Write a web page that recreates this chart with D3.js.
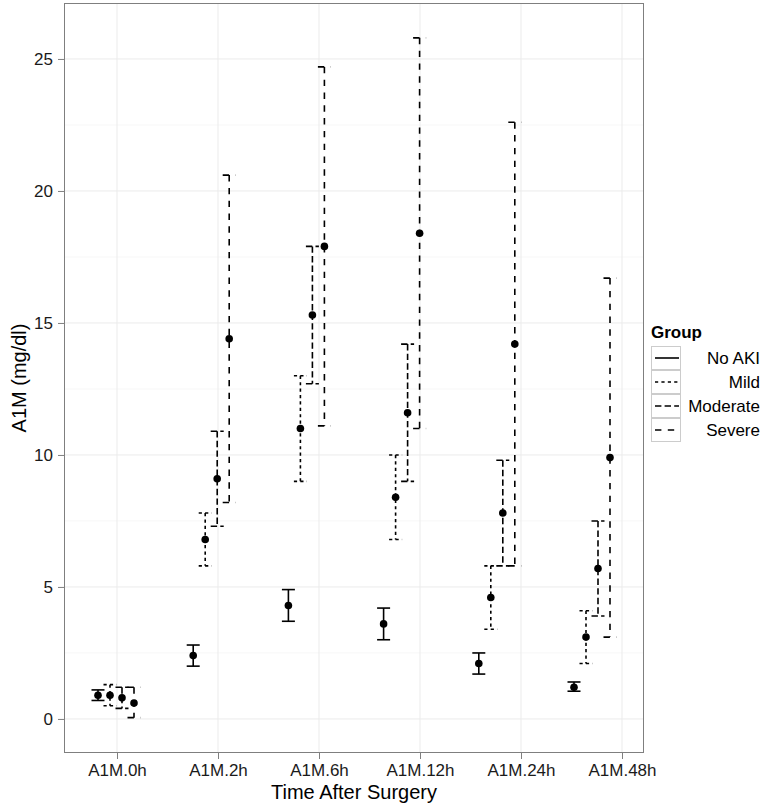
<!DOCTYPE html>
<html>
<head>
<meta charset="utf-8">
<script src="https://cdn.jsdelivr.net/npm/d3@7"></script>
<style>
  html, body { margin: 0; padding: 0; background: #fff; }
  svg { display: block; font-family: "Liberation Sans", Arial, Helvetica, sans-serif; }
</style>
</head>
<body>
<svg id="chart" width="765" height="807"></svg>
<script>
// ---- data ----
const categories = ["A1M.0h", "A1M.2h", "A1M.6h", "A1M.12h", "A1M.24h", "A1M.48h"];
const groups = ["No AKI", "Mild", "Moderate", "Severe"];
const meanNoAKI    = [0.9, 2.4, 4.3, 3.6, 2.1, 1.2];
const lowerNoAKI   = [0.7, 2.0, 3.7, 3.0, 1.7, 1.05];
const upperNoAKI   = [1.1, 2.8, 4.9, 4.2, 2.5, 1.4];
const meanMild     = [0.9, 6.8, 11.0, 8.4, 4.6, 3.1];
const lowerMild    = [0.5, 5.8, 9.0, 6.8, 3.4, 2.1];
const upperMild    = [1.3, 7.8, 13.0, 10.0, 5.8, 4.1];
const meanModerate = [0.8, 9.1, 15.3, 11.6, 7.8, 5.7];
const lowerModerate= [0.4, 7.3, 12.7, 9.0, 5.8, 3.9];
const upperModerate= [1.2, 10.9, 17.9, 14.2, 9.8, 7.5];
const meanSevere   = [0.6, 14.4, 17.9, 18.4, 14.2, 9.9];
const lowerSevere  = [0.05, 8.2, 11.1, 11.0, 5.8, 3.1];
const upperSevere  = [1.2, 20.6, 24.7, 25.8, 22.6, 16.7];
const yTicks = [0, 5, 10, 15, 20, 25];
const yMinor = [2.5, 7.5, 12.5, 17.5, 22.5];

const series = [
  {name: groups[0], mean: meanNoAKI, lo: lowerNoAKI, hi: upperNoAKI},
  {name: groups[1], mean: meanMild, lo: lowerMild, hi: upperMild},
  {name: groups[2], mean: meanModerate, lo: lowerModerate, hi: upperModerate},
  {name: groups[3], mean: meanSevere, lo: lowerSevere, hi: upperSevere}
];

// ---- layout ----
const panel = {left: 64, right: 644, top: 3, bottom: 753};
const lw = 1.6;
const dashes = {"No AKI": null, "Mild": [2*lw, 2*lw], "Moderate": [4*lw, 2*lw], "Severe": [4*lw, 4*lw]};

const svg = d3.select("#chart");

const y = d3.scaleLinear().domain([-1.29, 27.12]).range([panel.bottom, panel.top]);
const xTick = d3.scalePoint().domain(categories).range([117, 622]);
// positions of the dodged point clusters
const xCluster = d3.scaleLinear().domain([0, categories.length - 1]).range([116, 592]);
const xDodge = d3.scaleLinear().domain([0, groups.length - 1]).range([-18, 18]);

// panel background
svg.append("rect")
  .attr("x", panel.left).attr("y", panel.top)
  .attr("width", panel.right - panel.left).attr("height", panel.bottom - panel.top)
  .attr("fill", "#fff");

// minor grid
svg.append("g").selectAll("line").data(yMinor).join("line")
  .attr("x1", panel.left).attr("x2", panel.right)
  .attr("y1", d => y(d)).attr("y2", d => y(d))
  .attr("stroke", "#f7f7f7").attr("stroke-width", 1);
// major grid
svg.append("g").selectAll("line").data(yTicks).join("line")
  .attr("x1", panel.left).attr("x2", panel.right)
  .attr("y1", d => y(d)).attr("y2", d => y(d))
  .attr("stroke", "#ebebeb").attr("stroke-width", 1);
svg.append("g").selectAll("line").data(categories).join("line")
  .attr("x1", d => xTick(d)).attr("x2", d => xTick(d))
  .attr("y1", panel.top).attr("y2", panel.bottom)
  .attr("stroke", "#ebebeb").attr("stroke-width", 1);

// error bars: three separate segments (top cap, whisker, bottom cap); dash pattern restarts on each
const capHalf = 6.5;
const line = d3.line();
series.forEach((s, g) => {
  const grp = svg.append("g");
  s.mean.forEach((m, i) => {
    const cx = xCluster(i) + xDodge(g);
    const top = y(s.hi[i]), bot = y(s.lo[i]);
    const segs = [
      [[cx - capHalf, top], [cx + capHalf, top]],
      [[cx, top], [cx, bot]],
      [[cx - capHalf, bot], [cx + capHalf, bot]]
    ];
    segs.forEach(seg => {
      grp.append("path")
        .attr("d", line(seg))
        .attr("fill", "none").attr("stroke", "#000").attr("stroke-width", lw)
        .attr("stroke-dasharray", dashes[s.name] ? dashes[s.name].join(",") : null);
    });
  });
  grp.selectAll("circle").data(s.mean).join("circle")
    .attr("cx", (d, i) => xCluster(i) + xDodge(g))
    .attr("cy", d => y(d))
    .attr("r", 3.8).attr("fill", "#000");
});

// panel border
svg.append("rect")
  .attr("x", panel.left + 0.5).attr("y", panel.top + 0.5)
  .attr("width", panel.right - panel.left - 1).attr("height", panel.bottom - panel.top - 1)
  .attr("fill", "none").attr("stroke", "#7f7f7f").attr("stroke-width", 1);

// axes
const yAxis = d3.axisLeft(y).tickValues(yTicks).tickSize(6).tickPadding(5).tickFormat(d3.format("d"));
const gy = svg.append("g").attr("transform", `translate(${panel.left},0)`).call(yAxis);
gy.select(".domain").remove();
gy.selectAll(".tick line").attr("stroke", "#7f7f7f");
gy.selectAll(".tick text").attr("font-size", 17).attr("fill", "#1a1a1a")
  .attr("font-family", "Liberation Sans, Arial, sans-serif");

const xAxis = d3.axisBottom(xTick).tickSize(6).tickPadding(5);
const gx = svg.append("g").attr("transform", `translate(0,${panel.bottom})`).call(xAxis);
gx.select(".domain").remove();
gx.selectAll(".tick line").attr("stroke", "#7f7f7f");
gx.selectAll(".tick text").attr("font-size", 17).attr("fill", "#1a1a1a")
  .attr("font-family", "Liberation Sans, Arial, sans-serif");

// axis titles
svg.append("text").attr("x", (panel.left + panel.right) / 2).attr("y", 799)
  .attr("text-anchor", "middle").attr("font-size", 20).attr("fill", "#000")
  .text("Time After Surgery");
svg.append("text")
  .attr("transform", `translate(26,${(panel.top + panel.bottom) / 2}) rotate(-90)`)
  .attr("text-anchor", "middle").attr("font-size", 20).attr("fill", "#000")
  .text("A1M (mg/dl)");

// legend
const lg = svg.append("g");
lg.append("text").attr("x", 651).attr("y", 338).attr("font-size", 17).attr("font-weight", "bold")
  .text("Group");
const keyY = d3.scaleBand().domain(groups).range([346, 442]);
groups.forEach(name => {
  const ky = keyY(name), kh = keyY.bandwidth();
  lg.append("rect").attr("x", 651.5).attr("y", ky + 0.5).attr("width", 29).attr("height", kh - 1)
    .attr("fill", "#ffffff").attr("stroke", "#cccccc").attr("stroke-width", 1);
  lg.append("line").attr("x1", 655).attr("x2", 679).attr("y1", ky + kh / 2).attr("y2", ky + kh / 2)
    .attr("stroke", "#000").attr("stroke-width", lw)
    .attr("stroke-dasharray", dashes[name] ? dashes[name].join(",") : null);
  lg.append("text").attr("x", 760).attr("y", ky + kh / 2 + 6).attr("text-anchor", "end")
    .attr("font-size", 17).text(name);
});
</script>
</body>
</html>
